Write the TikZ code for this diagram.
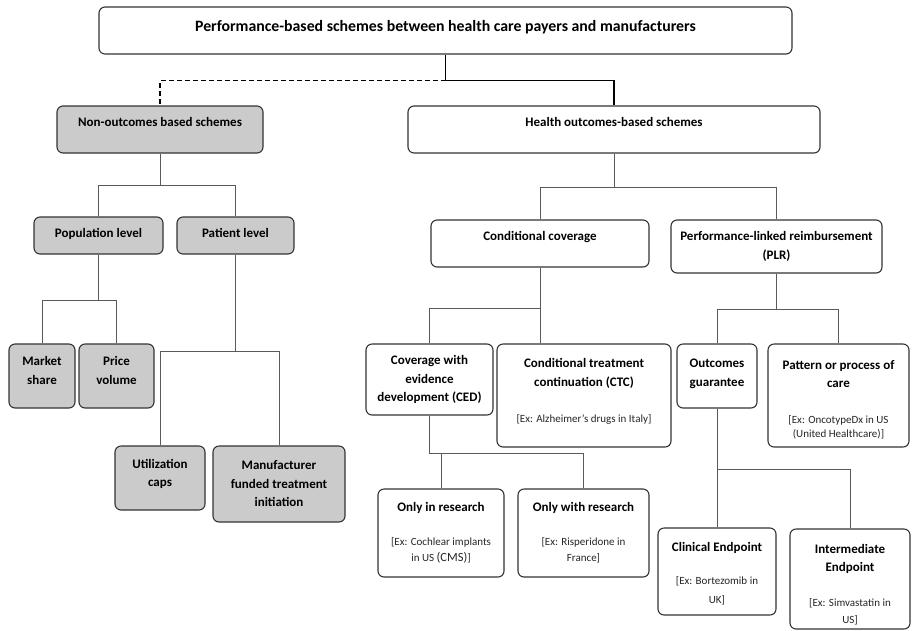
\documentclass[tikz,border=0pt]{standalone}
\usepackage{fontspec}
\setmainfont{Carlito}
\usetikzlibrary{calc}
\definecolor{BoxGray}{HTML}{CBCBCB}
\definecolor{LineGray}{HTML}{595959}
\definecolor{ExGray}{HTML}{262626}
\newcommand{\ex}{\mdseries\fontsize{11}{16}\selectfont\color{ExGray}}
\newcommand{\lift}[1]{\rule[-#1]{0pt}{#1}}
\newcommand{\drop}[1]{\rule{0pt}{#1}}

\begin{document}
\begin{tikzpicture}[x=1pt,y=-1pt,
    box/.style={draw=black!80,line width=1.1pt,rounded corners=6pt,fill=white,align=center,inner sep=2pt,font=\bfseries\fontsize{13}{18.5}\selectfont},
    gbox/.style={box,fill=BoxGray},
    sz/.style 2 args={minimum width=#1pt,minimum height=#2pt},
    link/.style={draw=LineGray,line width=0.9pt},
    main/.style={draw=black,line width=1.4pt},
  ]
  \useasboundingbox (0,0) rectangle (912,630);

  \node[box,sz={693}{47},font=\bfseries\fontsize{15.8}{19}\selectfont] (top) at (445.5,30.5) {Performance-based schemes between health care payers and manufacturers\lift{10pt}};

  % non-outcomes side
  \node[gbox,sz={206}{47}] (non) at (160,129.5) {Non-outcomes based schemes\lift{15pt}};
  \node[gbox,sz={129}{37}] (pop) at (98.5,235.5) {Population level\lift{5pt}};
  \node[gbox,sz={117}{37}] (pat) at (235.5,235.5) {Patient level\lift{5pt}};
  \node[gbox,sz={66}{64}] (market) at (42,376) {Market\\share\lift{11pt}};
  \node[gbox,sz={75}{64}] (price) at (116.5,376) {Price\\volume\lift{11pt}};
  \node[gbox,sz={90}{64}] (util) at (160,478) {Utilization\\caps\lift{10pt}};
  \node[gbox,sz={132}{76}] (manuf) at (279,484) {Manufacturer\\funded treatment\\initiation};

  % health outcomes side
  \node[box,sz={412}{47}] (health) at (614,129.5) {Health outcomes-based schemes\lift{15pt}};
  \node[box,sz={218}{47}] (cc) at (540,243.5) {Conditional coverage\lift{15pt}};
  \node[box,sz={211}{53}] (plr) at (776.5,246.5) {Performance-linked reimbursement\\(PLR)};
  \node[box,sz={127}{71}] (ced) at (429.5,379.5) {Coverage with\\evidence\\development (CED)};
  \node[box,sz={174}{103}] (ctc) at (584,395.5) {Conditional treatment\\continuation (CTC)\\[18pt]{\ex [Ex: Alzheimer’s drugs in Italy]\lift{10pt}}};
  \node[box,sz={80}{64}] (og) at (717,376) {Outcomes\\guarantee\lift{7pt}};
  \node[box,sz={141}{103}] (ppc) at (838.5,395.5) {\drop{18pt}Pattern or process of\\care\\[17pt]{\ex [Ex: OncotypeDx in US}\\[-4pt]{\ex (United Healthcare)]}};
  \node[box,sz={126}{88}] (oir) at (441,533) {Only in research\\[15pt]{\ex [Ex: Cochlear implants}\\[-2pt]{\ex in US {\fontsize{12.5}{16}\selectfont(CMS)}]}};
  \node[box,sz={131}{88}] (owr) at (583.5,533) {Only with research\\[15pt]{\ex [Ex: Risperidone in}\\[-2pt]{\ex France]}};
  \node[box,sz={118}{87}] (clin) at (717,571.5) {\drop{14pt}Clinical Endpoint\\[14pt]{\ex [Ex: Bortezomib in}\\[1pt]{\ex UK]}};
  \node[box,sz={120}{100}] (inter) at (850,579) {\drop{20pt}Intermediate\\Endpoint\\[16pt]{\ex [Ex: Simvastatin in}\\[-1pt]{\ex US]}};

  % connectors
  \draw[main] (top.south) -- ++(0,26) coordinate (j0) -| (health.north);
  \draw[main,dash pattern=on 5pt off 3pt] (j0) -| (non.north);
  \foreach \p/\l/\r/\d in {non/pop/pat/32, pop/market/price/46, pat/util/manuf/97, health/cc/plr/34, plr/og/ppc/36, ced/oir/owr/38, og/clin/inter/61}{
    \draw[link] (\p.south) -- ++(0,\d) coordinate (j);
    \draw[link] (\l.north) |- (j) -| (\r.north);
  }
  % CTC hangs straight under conditional coverage
  \draw[link] (cc.south) -- (cc.south |- ctc.north);
  \draw[link] (ced.north) |- ($(cc.south)+(0,41)$);
\end{tikzpicture}
\end{document}
